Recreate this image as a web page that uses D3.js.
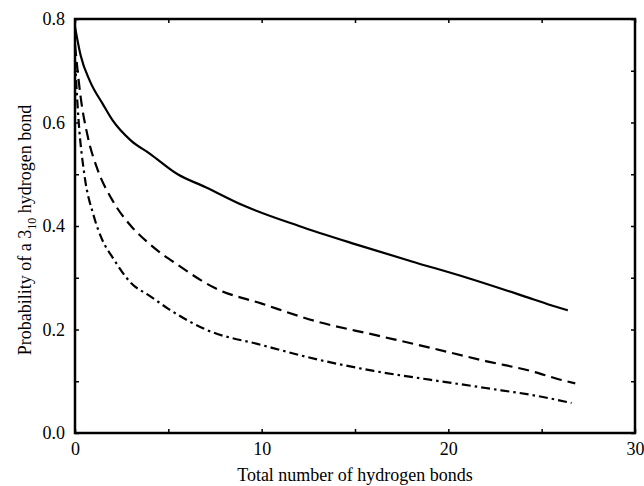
<!DOCTYPE html>
<html>
<head>
<meta charset="utf-8">
<script src="https://cdn.jsdelivr.net/npm/d3@7"></script>
<style>
  body { margin: 0; background: #fff; }
  svg { display: block; }
</style>
</head>
<body>
<div id="chart"></div>
<script>
// curve data
const xSolid = [0, 0.3, 0.8, 1.5, 2, 3, 4, 5.5, 7, 9, 12, 15, 18, 21, 24, 25.5, 26.4]
const ySolid = [0.785, 0.73, 0.68, 0.635, 0.605, 0.565, 0.54, 0.5, 0.475, 0.44, 0.4, 0.365, 0.332, 0.3, 0.265, 0.247, 0.237]

const xDashed = [0, 0.3, 0.7, 1.2, 2, 3, 4, 5.5, 7.5, 10, 13, 16, 19, 22, 24.5, 26, 26.8]
const yDashed = [0.75, 0.65, 0.57, 0.51, 0.45, 0.4, 0.365, 0.325, 0.28, 0.25, 0.215, 0.19, 0.165, 0.139, 0.119, 0.103, 0.096]

const xDashDot = [0, 0.2, 0.5, 1, 1.5, 2, 3, 4, 5, 7, 10, 13, 16, 19, 22, 25, 26.6]
const yDashDot = [0.72, 0.6, 0.5, 0.42, 0.37, 0.34, 0.29, 0.265, 0.24, 0.2, 0.17, 0.142, 0.12, 0.103, 0.087, 0.07, 0.058]

const xTicks = [0, 10, 20, 30]
const yTicks = [0, 0.2, 0.4, 0.6, 0.8]
const xMinor = [0, 5, 10, 15, 20, 25, 30]
const yMinor = [0, 0.1, 0.2, 0.3, 0.4, 0.5, 0.6, 0.7, 0.8]

const width = 644, height = 486
const margin = { top: 19, right: 9, bottom: 53, left: 75 }
const font = "'Liberation Serif', 'Times New Roman', serif"

const svg = d3.select("#chart").append("svg")
    .attr("width", width)
    .attr("height", height)

const x = d3.scaleLinear().domain([0, 30]).range([margin.left, width - margin.right])
const y = d3.scaleLinear().domain([0, 0.8]).range([height - margin.bottom, margin.top])

// inward ticks on all four sides
const tickLen = 4
svg.append("g")
    .attr("transform", `translate(0,${y(0)})`)
    .call(d3.axisTop(x).tickValues(xMinor).tickSize(tickLen).tickFormat(""))
    .call(g => g.select(".domain").remove())
svg.append("g")
    .attr("transform", `translate(0,${y(0.8)})`)
    .call(d3.axisBottom(x).tickValues(xMinor).tickSize(tickLen).tickFormat(""))
    .call(g => g.select(".domain").remove())
svg.append("g")
    .attr("transform", `translate(${x(0)},0)`)
    .call(d3.axisRight(y).tickValues(yMinor).tickSize(tickLen).tickFormat(""))
    .call(g => g.select(".domain").remove())
svg.append("g")
    .attr("transform", `translate(${x(30)},0)`)
    .call(d3.axisLeft(y).tickValues(yMinor).tickSize(tickLen).tickFormat(""))
    .call(g => g.select(".domain").remove())
svg.selectAll(".tick line").attr("stroke", "#000").attr("stroke-width", 1.5)

// tick labels
svg.append("g")
    .attr("transform", `translate(0,${y(0)})`)
    .call(d3.axisBottom(x).tickValues(xTicks).tickSize(0).tickPadding(9).tickFormat(d3.format("d")))
    .call(g => g.select(".domain").remove())
    .call(g => g.selectAll("text").style("font-family", font).style("font-size", "18px").attr("fill", "#000"))
svg.append("g")
    .attr("transform", `translate(${x(0)},0)`)
    .call(d3.axisLeft(y).tickValues(yTicks).tickSize(0).tickPadding(10).tickFormat(d3.format(".1f")))
    .call(g => g.select(".domain").remove())
    .call(g => g.selectAll("text").style("font-family", font).style("font-size", "18px").attr("fill", "#000"))

// frame
svg.append("rect")
    .attr("x", x(0))
    .attr("y", y(0.8))
    .attr("width", x(30) - x(0))
    .attr("height", y(0) - y(0.8))
    .attr("fill", "none")
    .attr("stroke", "#000")
    .attr("stroke-width", 2.5)

// curves
const line = d3.line()
    .x(d => x(d[0]))
    .y(d => y(d[1]))
    .curve(d3.curveMonotoneX)

const series = [
    { xs: xSolid, ys: ySolid, dash: null },
    { xs: xDashed, ys: yDashed, dash: "11,6" },
    { xs: xDashDot, ys: yDashDot, dash: "9,4,2.5,4" }
]

series.forEach(s => {
    svg.append("path")
        .datum(d3.zip(s.xs, s.ys))
        .attr("d", line)
        .attr("fill", "none")
        .attr("stroke", "#000")
        .attr("stroke-width", 2.2)
        .attr("stroke-dasharray", s.dash)
})

// axis titles
svg.append("text")
    .attr("x", (x(0) + x(30)) / 2)
    .attr("y", 481)
    .attr("text-anchor", "middle")
    .style("font-family", font)
    .style("font-size", "18px")
    .text("Total number of hydrogen bonds")

const ylab = svg.append("text")
    .attr("transform", `translate(31,${(y(0) + y(0.8)) / 2 + 4}) rotate(-90)`)
    .attr("text-anchor", "middle")
    .style("font-family", font)
    .style("font-size", "18px")
ylab.append("tspan").text("Probability of a 3")
ylab.append("tspan").attr("dy", 5).style("font-size", "12px").text("10")
ylab.append("tspan").attr("dy", -5).text(" hydrogen bond")
</script>
</body>
</html>
